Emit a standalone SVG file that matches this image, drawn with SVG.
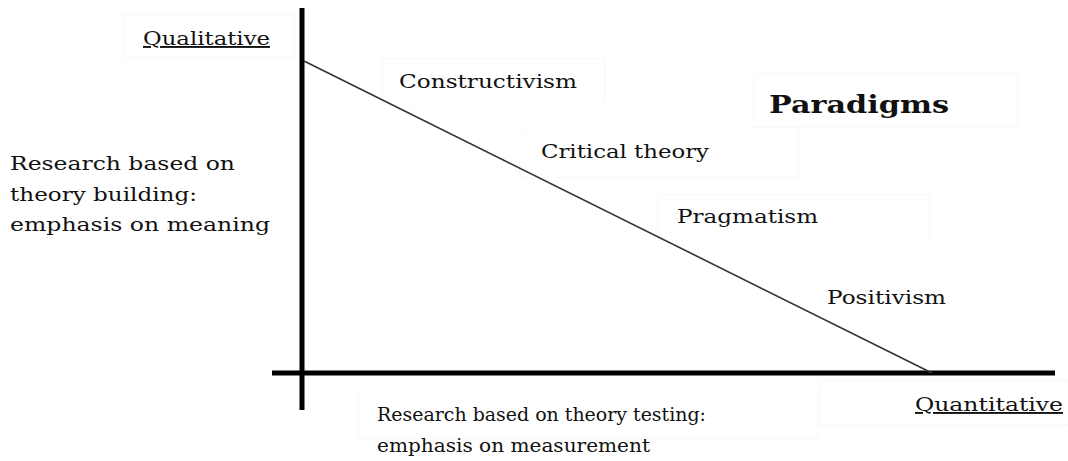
<svg xmlns="http://www.w3.org/2000/svg" width="1068" height="461" viewBox="0 0 1068 461">
<style>
text{font-family:"DejaVu Serif","Liberation Serif",serif;font-size:19px;fill:#111}
.u{text-decoration:underline}
.b{font-weight:bold;font-size:25px}
.box{fill:none;stroke:#f7f7f7;stroke-width:1}
.axis{stroke:#000;stroke-width:5}
</style>
<rect width="1068" height="461" fill="#fff"/>
<g id="boxes">
<rect class="box" x="124" y="15" width="170" height="43"/>
<rect class="box" x="382" y="59" width="223" height="45"/>
<rect class="box" x="754" y="73" width="264" height="54"/>
<rect class="box" x="520" y="128" width="278" height="50"/>
<rect class="box" x="658" y="195" width="272" height="45"/>
<rect class="box" x="358" y="392" width="460" height="46"/>
<rect class="box" x="820" y="380" width="248" height="45"/>
</g>
<g id="connectors">
<line class="axis" x1="302" y1="8" x2="302" y2="410"/>
<line class="axis" x1="272" y1="373" x2="1055" y2="373"/>
<line x1="304" y1="61" x2="932" y2="373" stroke="#333" stroke-width="1.6"/>
</g>
<g id="qualitative"><text class="u" x="143" y="45" textLength="127" lengthAdjust="spacingAndGlyphs">Qualitative</text></g>
<g id="quantitative"><text class="u" x="915" y="411" textLength="148" lengthAdjust="spacingAndGlyphs">Quantitative</text></g>
<g id="paradigms"><text class="b" x="769" y="113" textLength="180" lengthAdjust="spacingAndGlyphs">Paradigms</text></g>
<g id="constructivism"><text x="399" y="88" textLength="178" lengthAdjust="spacingAndGlyphs">Constructivism</text></g>
<g id="critical"><text x="541" y="158" textLength="168" lengthAdjust="spacingAndGlyphs">Critical theory</text></g>
<g id="pragmatism"><text x="677" y="223" textLength="141" lengthAdjust="spacingAndGlyphs">Pragmatism</text></g>
<g id="positivism"><text x="827" y="304" textLength="119" lengthAdjust="spacingAndGlyphs">Positivism</text></g>
<g id="building">
<text x="10" y="170" textLength="225" lengthAdjust="spacingAndGlyphs">Research based on</text>
<text x="10" y="201" textLength="187" lengthAdjust="spacingAndGlyphs">theory building:</text>
<text x="10" y="231" textLength="260" lengthAdjust="spacingAndGlyphs">emphasis on meaning</text>
</g>
<g id="testing">
<text x="377" y="421" textLength="329" lengthAdjust="spacingAndGlyphs">Research based on theory testing:</text>
<text x="377" y="452" textLength="273" lengthAdjust="spacingAndGlyphs">emphasis on measurement</text>
</g>
</svg>
